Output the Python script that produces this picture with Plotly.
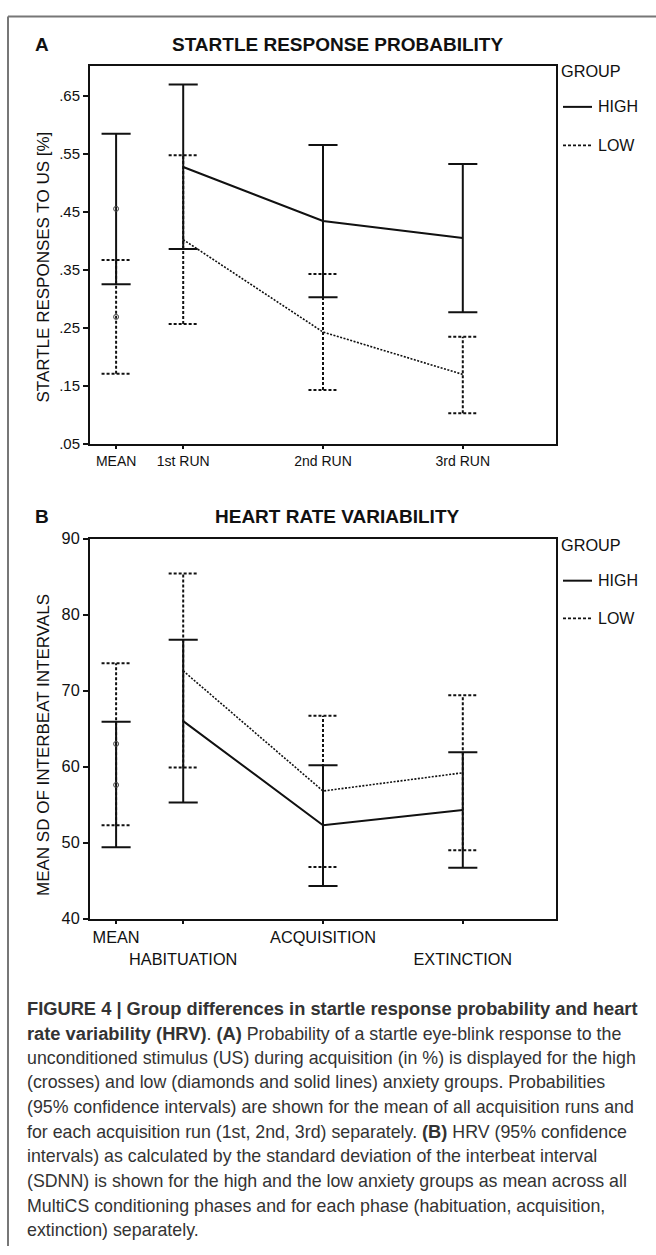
import plotly.graph_objects as go

# ---- data -------------------------------------------------------------
run_labels = ["MEAN", "1st RUN", "2nd RUN", "3rd RUN"]
phase_labels = ["MEAN", "<br>HABITUATION", "ACQUISITION", "<br>EXTINCTION"]
group_names = ["HIGH", "LOW"]

# Panel A: startle response probability (mean and 95% CI)
a_high_mean = [0.455, 0.527, 0.434, 0.405]
a_high_lo = [0.325, 0.386, 0.303, 0.277]
a_high_hi = [0.584, 0.669, 0.565, 0.532]
a_low_mean = [0.269, 0.402, 0.243, 0.170]
a_low_lo = [0.171, 0.257, 0.143, 0.103]
a_low_hi = [0.367, 0.547, 0.343, 0.235]
a_ticks = [0.05, 0.15, 0.25, 0.35, 0.45, 0.55, 0.65]
a_tick_text = [".05", ".15", ".25", ".35", ".45", ".55", ".65"]

# Panel B: heart rate variability, SDNN (mean and 95% CI)
b_high_mean = [57.6, 66.0, 52.3, 54.3]
b_high_lo = [49.4, 55.3, 44.3, 46.7]
b_high_hi = [65.9, 76.7, 60.2, 61.9]
b_low_mean = [63.0, 72.6, 56.8, 59.2]
b_low_lo = [52.3, 59.9, 46.8, 49.0]
b_low_hi = [73.6, 85.4, 66.7, 69.4]
b_ticks = [40, 50, 60, 70, 80, 90]

BSTYLE = "font-size:18.3px"
caption_lines = [
    f"<b><span style='{BSTYLE}'>FIGURE 4 | Group differences in startle response probability and heart</span></b>",
    f"<b><span style='{BSTYLE}'>rate variability (HRV)</span></b>. <b><span style='{BSTYLE}'>(A)</span></b> Probability of a startle eye-blink response to the",
    "unconditioned stimulus (US) during acquisition (in %) is displayed for the high",
    "(crosses) and low (diamonds and solid lines) anxiety groups. Probabilities",
    "(95% confidence intervals) are shown for the mean of all acquisition runs and",
    f"for each acquisition run (1st, 2nd, 3rd) separately. <b><span style='{BSTYLE}'>(B)</span></b> HRV (95% confidence",
    "intervals) as calculated by the standard deviation of the interbeat interval",
    "(SDNN) is shown for the high and the low anxiety groups as mean across all",
    "MultiCS conditioning phases and for each phase (habituation, acquisition,",
    "extinction) separately.",
]

# ---- layout constants ---------------------------------------------------
W, H = 656, 1255
slot_x = [0.52, 1, 2, 3]          # MEAN column sits closer to the first run
x_range = [1 / 3, 11 / 3]
CAP = 0.104                       # half width of error-bar caps (x units)
INK = "#111111"
FONT = "Liberation Sans, Arial, sans-serif"
DOT = "3px,2px"
LOW_LINE = "2px,1.5px"


def px_x(p):
    return p / W


def px_y(p):
    return 1 - p / H


def ci_path(xs, lo, hi):
    """Whisker + cap polyline for each interval, separated by gaps."""
    px, py = [], []
    for x, l, h in zip(xs, lo, hi):
        px += [x, x, None, x - CAP, x + CAP, None, x - CAP, x + CAP, None]
        py += [l, h, None, l, l, None, h, h, None]
    return px, py


fig = go.Figure()


def add_panel(xa, ya, hi_m, hi_lo, hi_hi, lo_m, lo_lo, lo_hi):
    # low-anxiety group first so the high group's solid strokes sit on top
    ex, ey = ci_path(slot_x, lo_lo, lo_hi)
    fig.add_trace(go.Scatter(x=ex, y=ey, mode="lines", xaxis=xa, yaxis=ya,
                             line=dict(color=INK, width=2, dash=DOT), hoverinfo="skip"))
    fig.add_trace(go.Scatter(x=slot_x[1:], y=lo_m[1:], mode="lines", xaxis=xa, yaxis=ya,
                             line=dict(color=INK, width=1.6, dash=LOW_LINE), name="LOW"))
    ex, ey = ci_path(slot_x, hi_lo, hi_hi)
    fig.add_trace(go.Scatter(x=ex, y=ey, mode="lines", xaxis=xa, yaxis=ya,
                             line=dict(color=INK, width=2), hoverinfo="skip"))
    fig.add_trace(go.Scatter(x=slot_x[1:], y=hi_m[1:], mode="lines", xaxis=xa, yaxis=ya,
                             line=dict(color=INK, width=2), name="HIGH"))
    # overall means drawn as small open circles
    fig.add_trace(go.Scatter(x=[slot_x[0], slot_x[0]], y=[hi_m[0], lo_m[0]], mode="markers",
                             xaxis=xa, yaxis=ya,
                             marker=dict(symbol="circle-open", size=5, color="#444444",
                                         line=dict(width=1)),
                             hoverinfo="skip"))


add_panel("x", "y", a_high_mean, a_high_lo, a_high_hi, a_low_mean, a_low_lo, a_low_hi)
add_panel("x2", "y2", b_high_mean, b_high_lo, b_high_hi, b_low_mean, b_low_lo, b_low_hi)

axis_common = dict(showline=True, mirror=True, linewidth=2, linecolor=INK,
                   showgrid=False, zeroline=False, ticks="outside",
                   tickcolor=INK, tickwidth=1.5)

x_dom = [px_x(90), px_x(556)]
fig.update_layout(
    width=W, height=H,
    margin=dict(l=0, r=0, t=0, b=0),
    paper_bgcolor="white", plot_bgcolor="white",
    font=dict(family=FONT, color=INK),
    showlegend=False,
    xaxis=dict(domain=x_dom, range=x_range, anchor="y", tickvals=slot_x,
               ticktext=run_labels, ticklen=3, tickangle=0,
               tickfont=dict(size=14), **axis_common),
    yaxis=dict(domain=[px_y(441.5), px_y(58.3)], range=[0.05, 0.70], anchor="x",
               tickvals=a_ticks, ticktext=a_tick_text, ticklen=5,
               tickfont=dict(size=15), **axis_common),
    xaxis2=dict(domain=x_dom, range=x_range, anchor="y2", tickvals=slot_x,
                ticktext=phase_labels, ticklen=3, tickangle=0,
                tickfont=dict(size=16.3), **axis_common),
    yaxis2=dict(domain=[px_y(923), px_y(537.3)], range=[40, 90], anchor="x2",
                tickvals=b_ticks, ticklen=5, tickfont=dict(size=16.3), **axis_common),
)

ann = []
shapes = []
# panel letters and titles
for letter, title, yc in [("A", "STARTLE RESPONSE PROBABILITY", 36),
                          ("B", "HEART RATE VARIABILITY", 515)]:
    ann.append(dict(text=f"<b>{letter}</b>", x=px_x(33), y=px_y(yc), xanchor="left",
                    yanchor="middle", font=dict(size=19)))
    ann.append(dict(text=f"<b>{title}</b>", x=px_x(337), y=px_y(yc), xanchor="center",
                    yanchor="middle", font=dict(size=19)))
# vertical axis titles
ann.append(dict(text="STARTLE RESPONSES TO US [%]", x=px_x(44), y=px_y(262.3),
                textangle=-90, xanchor="center", yanchor="middle", font=dict(size=17)))
ann.append(dict(text="MEAN SD OF INTERBEAT INTERVALS", x=px_x(44), y=px_y(746.7),
                textangle=-90, xanchor="center", yanchor="middle", font=dict(size=17)))

# group key beside each panel: heading, then a line sample and name per group
for head_y, item_ys in [(63.3, (99.3, 138.3)), (543.3, (580, 618.3))]:
    ann.append(dict(text="GROUP", x=px_x(558.5), y=px_y(head_y), xanchor="left",
                    yanchor="middle", font=dict(size=16.3)))
    for name, iy, dash, lw in zip(group_names, item_ys, ["solid", DOT], [2, 1.8]):
        shapes.append(dict(type="line", xref="paper", yref="paper",
                           x0=px_x(563), x1=px_x(592), y0=px_y(iy), y1=px_y(iy),
                           line=dict(color=INK, width=lw, dash=dash)))
        ann.append(dict(text=name, x=px_x(596), y=px_y(iy), xanchor="left",
                        yanchor="middle", font=dict(size=16)))

# caption
for i, line in enumerate(caption_lines):
    ann.append(dict(text=line, x=px_x(25), y=px_y(1014 + 25 * i), xanchor="left",
                    yanchor="middle", font=dict(size=17.8, color="#333333")))
for a in ann:
    a.update(xref="paper", yref="paper", showarrow=False)

# page frame: rule along the top and the left edge
shapes.append(dict(type="line", xref="paper", yref="paper", x0=px_x(8), x1=1,
                   y0=px_y(7.5), y1=px_y(7.5), line=dict(color="#777777", width=2)))
shapes.append(dict(type="line", xref="paper", yref="paper", x0=px_x(8), x1=px_x(8),
                   y0=px_y(7.5), y1=0, line=dict(color="#777777", width=2)))

fig.update_layout(annotations=ann, shapes=shapes)
fig.write_html("out.html")
